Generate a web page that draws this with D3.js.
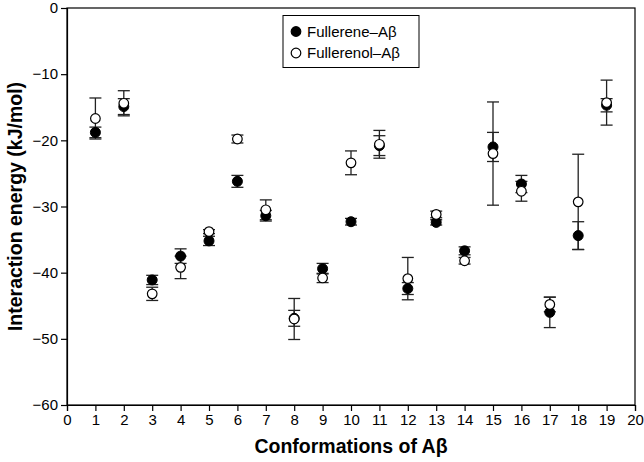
<!DOCTYPE html>
<html>
<head>
<meta charset="utf-8">
<script src="https://cdn.jsdelivr.net/npm/d3@7"></script>
<style>
  body { margin: 0; background: #fff; }
  text { font-family: "Liberation Sans", Arial, sans-serif; }
</style>
</head>
<body>
<div id="chart"></div>
<script>
// conformations 1..19
const conformations = [1, 2, 3, 4, 5, 6, 7, 8, 9, 10, 11, 12, 13, 14, 15, 16, 17, 18, 19];

const fullereneValues = [-18.8, -14.9, -41.1, -37.5, -35.2, -26.2, -31.4, -46.9, -39.4, -32.3, -20.8, -42.4, -32.4, -36.7, -21.0, -26.6, -46.0, -34.4, -14.7];
const fullereneErr    = [0.8, 1.2, 0.7, 1.1, 0.7, 0.9, 0.8, 1.2, 0.8, 0.5, 1.5, 0.9, 0.4, 0.6, 2.2, 1.3, 2.3, 2.1, 1.0];

const fullerenolValues = [-16.7, -14.4, -43.2, -39.2, -33.8, -19.8, -30.5, -47.0, -40.8, -23.4, -20.6, -40.9, -31.2, -38.2, -22.0, -27.7, -44.8, -29.3, -14.3];
const fullerenolErr    = [3.1, 1.9, 1.0, 1.7, 0.3, 0.6, 1.5, 3.1, 0.7, 1.8, 2.1, 3.2, 0.5, 0.5, 7.8, 1.5, 1.1, 7.2, 3.4];

const xTicks = d3.range(0, 21);
const yTicks = [0, -10, -20, -30, -40, -50, -60];

const seriesNames = ["Fullerene\u2013A\u03b2", "Fullerenol\u2013A\u03b2"];

const W = 644, H = 462;
const margin = { top: 8, right: 9, bottom: 57, left: 67 };
const width = W - margin.left - margin.right,
  height = H - margin.top - margin.bottom;

const svg = d3.select("#chart").append("svg")
  .attr("width", W)
  .attr("height", H);

const g = svg.append("g")
  .attr("transform", "translate(" + margin.left + "," + margin.top + ")");

const x = d3.scaleLinear().domain([0, 20]).range([0, width]);
const y = d3.scaleLinear().domain([-60, 0]).range([height, 0]);

// frame
g.append("rect")
  .attr("width", width)
  .attr("height", height)
  .attr("fill", "none")
  .attr("stroke", "#000")
  .attr("stroke-width", 1.2);

const xAxis = g.append("g")
  .attr("transform", "translate(0," + height + ")")
  .call(d3.axisBottom(x).tickValues(xTicks).tickSize(6).tickPadding(3).tickFormat(d3.format("d")));

const yAxis = g.append("g")
  .call(d3.axisLeft(y).tickValues(yTicks).tickSize(6).tickPadding(3));

[xAxis, yAxis].forEach(function(a) {
  a.select(".domain").attr("stroke-width", 1.2);
  a.selectAll(".tick line").attr("stroke-width", 1.2);
  a.selectAll(".tick text")
    .style("font-family", "Liberation Sans, Arial, sans-serif")
    .style("font-size", "15px")
    .attr("fill", "#000");
});

// axis titles
svg.append("text")
  .text("Conformations of A\u03b2")
  .attr("x", margin.left + width / 2)
  .attr("y", 453)
  .attr("text-anchor", "middle")
  .style("font-weight", "bold")
  .style("font-size", "19.5px");

svg.append("text")
  .text("Interaction energy (kJ/mol)")
  .attr("transform", "translate(22," + (margin.top + height / 2) + ") rotate(-90)")
  .attr("text-anchor", "middle")
  .style("font-weight", "bold")
  .style("font-size", "19.5px");

function buildSeries(values, errs) {
  return conformations.map(function(c, i) {
    return { c: c, v: values[i], e: errs[i] };
  });
}

const fullerene = buildSeries(fullereneValues, fullereneErr);
const fullerenol = buildSeries(fullerenolValues, fullerenolErr);

function drawErrors(data) {
  let eg = g.append("g")
    .attr("stroke", "#222")
    .attr("stroke-width", 1.3);
  data.forEach(function(d) {
    let cx = x(d.c);
    eg.append("line")
      .attr("x1", cx).attr("x2", cx)
      .attr("y1", y(d.v + d.e)).attr("y2", y(d.v - d.e));
    [d.v + d.e, d.v - d.e].forEach(function(val) {
      eg.append("line")
        .attr("x1", cx - 6).attr("x2", cx + 6)
        .attr("y1", y(val)).attr("y2", y(val));
    });
  });
}

drawErrors(fullerene);
drawErrors(fullerenol);

g.append("g").selectAll("circle")
  .data(fullerene)
  .join("circle")
  .attr("cx", d => x(d.c))
  .attr("cy", d => y(d.v))
  .attr("r", 5)
  .attr("fill", "#000")
  .attr("stroke", "#000");

g.append("g").selectAll("circle")
  .data(fullerenol)
  .join("circle")
  .attr("cx", d => x(d.c))
  .attr("cy", d => y(d.v))
  .attr("r", 4.8)
  .attr("fill", "#fff")
  .attr("stroke", "#000")
  .attr("stroke-width", 1.2);

// legend
const legend = svg.append("g");
legend.append("rect")
  .attr("x", 283)
  .attr("y", 15.5)
  .attr("width", 136)
  .attr("height", 52)
  .attr("fill", "#fff")
  .attr("stroke", "#000")
  .attr("stroke-width", 1);

seriesNames.forEach(function(name, i) {
  let ly = 31.5 + i * 21.5;
  legend.append("circle")
    .attr("cx", 296)
    .attr("cy", ly)
    .attr("r", 4.8)
    .attr("fill", i === 0 ? "#000" : "#fff")
    .attr("stroke", "#000")
    .attr("stroke-width", 1.2);
  legend.append("text")
    .text(name)
    .attr("x", 307)
    .attr("y", ly + 5)
    .style("font-size", "15px");
});
</script>
</body>
</html>
